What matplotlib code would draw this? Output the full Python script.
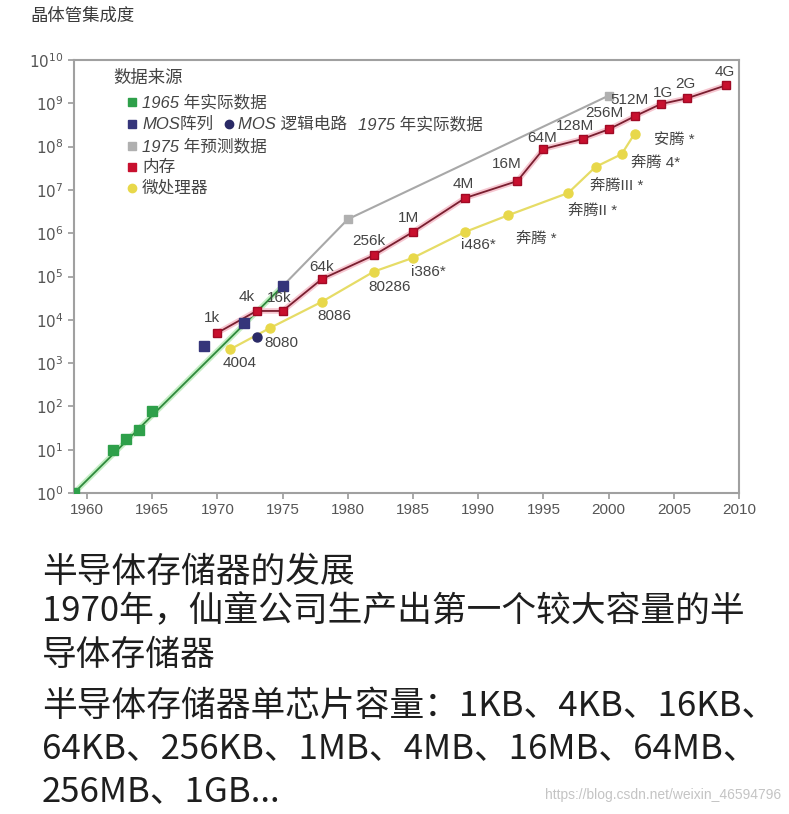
import matplotlib
matplotlib.use("Agg")
import matplotlib.pyplot as plt
from matplotlib.ticker import FixedLocator, NullLocator
from matplotlib.lines import Line2D

plt.rcParams['font.family'] = ['Liberation Sans', 'Noto Sans CJK SC', 'DejaVu Sans']
cjk = ['Noto Sans CJK SC', 'DejaVu Sans']

# 1965 actual data (green)
green_years = [1959, 1962, 1963, 1964, 1965]
green_vals = [1, 10, 18, 28, 78]
green_trend_years = [1959, 1975]
green_trend_vals = [1, 6e4]

# MOS arrays / MOS logic (1975 actual data)
mos_array_years = [1969, 1972, 1975]
mos_array_vals = [2500, 8500, 6e4]
mos_logic_years = [1973]
mos_logic_vals = [4000]

# 1975 prediction (gray)
pred_years = [1975, 1980, 2000]
pred_vals = [6e4, 2.1e6, 1.5e9]

# memory (red)
mem_years = [1970, 1973, 1975, 1978, 1982, 1985, 1989, 1993, 1995, 1998,
             2000, 2002, 2004, 2006, 2009]
mem_vals = [5e3, 1.6e4, 1.6e4, 8.7e4, 3.1e5, 1.07e6, 6.5e6, 1.6e7, 8.8e7,
            1.5e8, 2.5e8, 5e8, 9.6e8, 1.3e9, 2.6e9]
mem_labels = ['1k', '4k', '16k', '64k', '256k', '1M', '4M', '16M', '64M',
              '128M', '256M', '512M', '1G', '2G', '4G']
mem_offsets = [(-5, 15), (-10, 14), (-3, 13), (0, 12), (-5, 14), (-5, 14),
               (-2, 14), (-11, 17), (-1, 11), (-8, 13), (-4, 16), (-5, 16),
               (2, 11), (-1, 14), (-1, 13)]

# microprocessors (yellow)
cpu_years = [1971, 1974, 1978, 1982, 1985, 1989, 1992.3, 1996.9, 1999, 2001, 2002]
cpu_vals = [2100, 6400, 2.6e4, 1.3e5, 2.7e5, 1.07e6, 2.6e6, 8.5e6, 3.4e7,
            6.7e7, 2e8]
cpu_labels = ['4004', '8080', '8086', '80286', 'i386*', 'i486*', '奔腾 *',
              '奔腾II *', '奔腾III *', '奔腾 4*', '安腾 *']
cpu_offsets = [(9, -14), (12, -15), (13, -14), (16, -15), (15, -14), (13, -13),
               (28, -24), (24, -18), (21, -19), (34, -9), (40, -7)]

x_ticks = list(range(1960, 2011, 5))
y_exps = list(range(0, 11))

body_lines = ['半导体存储器的发展',
              '1970年，仙童公司生产出第一个较大容量的半',
              '导体存储器',
              '半导体存储器单芯片容量：1KB、4KB、16KB、',
              '64KB、256KB、1MB、4MB、16MB、64MB、',
              '256MB、1GB...']
body_y = [572, 612, 655, 706, 749, 792]

W, H = 789, 814
fig = plt.figure(figsize=(W / 100, H / 100), dpi=100)
ax = fig.add_axes([74 / W, 1 - 493 / H, (739 - 74) / W, (493 - 60) / H])

ax.set_yscale('log')
ax.set_xlim(1959, 2010)
ax.set_ylim(1, 1e10)

# green 1965 data
ax.plot(green_trend_years, green_trend_vals, color='#c4eec4', lw=4, zorder=2)
ax.plot(green_trend_years, green_trend_vals, color='#2f8a3c', lw=1.3, zorder=3)
ax.plot(green_years, green_vals, 's', color='#2ea04a', ms=7, zorder=4)

# gray prediction
ax.plot(pred_years, pred_vals, color='#a8a8a8', lw=1.5, zorder=2)
ax.plot(pred_years[1:], pred_vals[1:], 's', color='#b0b0b0', ms=6, zorder=3)

# yellow microprocessors
ax.plot(cpu_years, cpu_vals, color='#e6dc66', lw=1.6, zorder=3)
ax.plot(cpu_years, cpu_vals, 'o', color='#e8d84a', ms=6.5, zorder=4)

# red memory
ax.plot(mem_years, mem_vals, color='#f6c6d0', lw=4, zorder=4)
ax.plot(mem_years, mem_vals, color='#7a1f30', lw=1.3, zorder=5)
ax.plot(mem_years, mem_vals, 's', color='#c8102e', mec='#a00a25', ms=6, zorder=6)

# MOS points
ax.plot(mos_array_years, mos_array_vals, 's', color='#35357a', ms=6.5, zorder=7)
ax.plot(mos_logic_years, mos_logic_vals, 'o', color='#2a2a66', ms=6.5, zorder=7)

for x, y, lab, off in zip(mem_years, mem_vals, mem_labels, mem_offsets):
    ax.annotate(lab, (x, y), xytext=off, textcoords='offset pixels',
                ha='center', va='center', fontsize=11, color='#444444', zorder=8)
for x, y, lab, off in zip(cpu_years, cpu_vals, cpu_labels, cpu_offsets):
    ax.annotate(lab, (x, y), xytext=off, textcoords='offset pixels',
                ha='center', va='center', fontsize=11, color='#444444', zorder=8)

ax.xaxis.set_major_locator(FixedLocator(x_ticks))
ax.set_xticklabels([str(t) for t in x_ticks])
ax.yaxis.set_major_locator(FixedLocator([10.0 ** e for e in y_exps]))
ax.yaxis.set_minor_locator(NullLocator())
ax.set_yticklabels([f'$10^{{{e}}}$' for e in y_exps])
ax.tick_params(colors='#999999', labelcolor='#555555', labelsize=11,
               length=4, width=1.2)
for s in ax.spines.values():
    s.set_color('#a0a0a0')
    s.set_linewidth(1.5)

# legend drawn by hand (second row holds two markers)
def fx(px):
    return px / W

def fy(py):
    return 1 - py / H

fig.text(fx(113), fy(78), '数据来源', family=cjk, fontsize=12.5, color='#444444',
         va='center')
legend_rows = [
    (132, 102, 's', '#2ea04a', 142, '1965 年实际数据'),
    (132, 124, 's', '#35357a', 142, 'MOS阵列'),
    (229, 124, 'o', '#2a2a66', 238, 'MOS 逻辑电路'),
    (None, 124, None, None, 358, '1975 年实际数据'),
    (132, 146, 's', '#b0b0b0', 142, '1975 年预测数据'),
    (132, 167, 's', '#c8102e', 142, '内存'),
    (132, 188, 'o', '#e8d84a', 142, '微处理器'),
]
for mx, my, mk, mc, tx, txt in legend_rows:
    if mx is not None:
        fig.add_artist(Line2D([fx(mx)], [fy(my)], marker=mk, color=mc, ms=6,
                              transform=fig.transFigure))
    fig.text(fx(tx), fy(my), txt, fontsize=12, color='#444444', va='center',
             style='italic')

fig.text(fx(30), fy(16), '晶体管集成度', family=cjk, fontsize=12.5,
         color='#3a3a3a', va='center')

for line, y in zip(body_lines, body_y):
    fig.text(fx(42), fy(y), line, family=cjk, fontsize=25, color='#1e1e1e',
             va='center')

fig.text(fx(781), fy(795), 'https://blog.csdn.net/weixin_46594796',
         fontsize=10, color='#c4c4c4', ha='right', va='center')

fig.savefig('out.png', dpi=100)
